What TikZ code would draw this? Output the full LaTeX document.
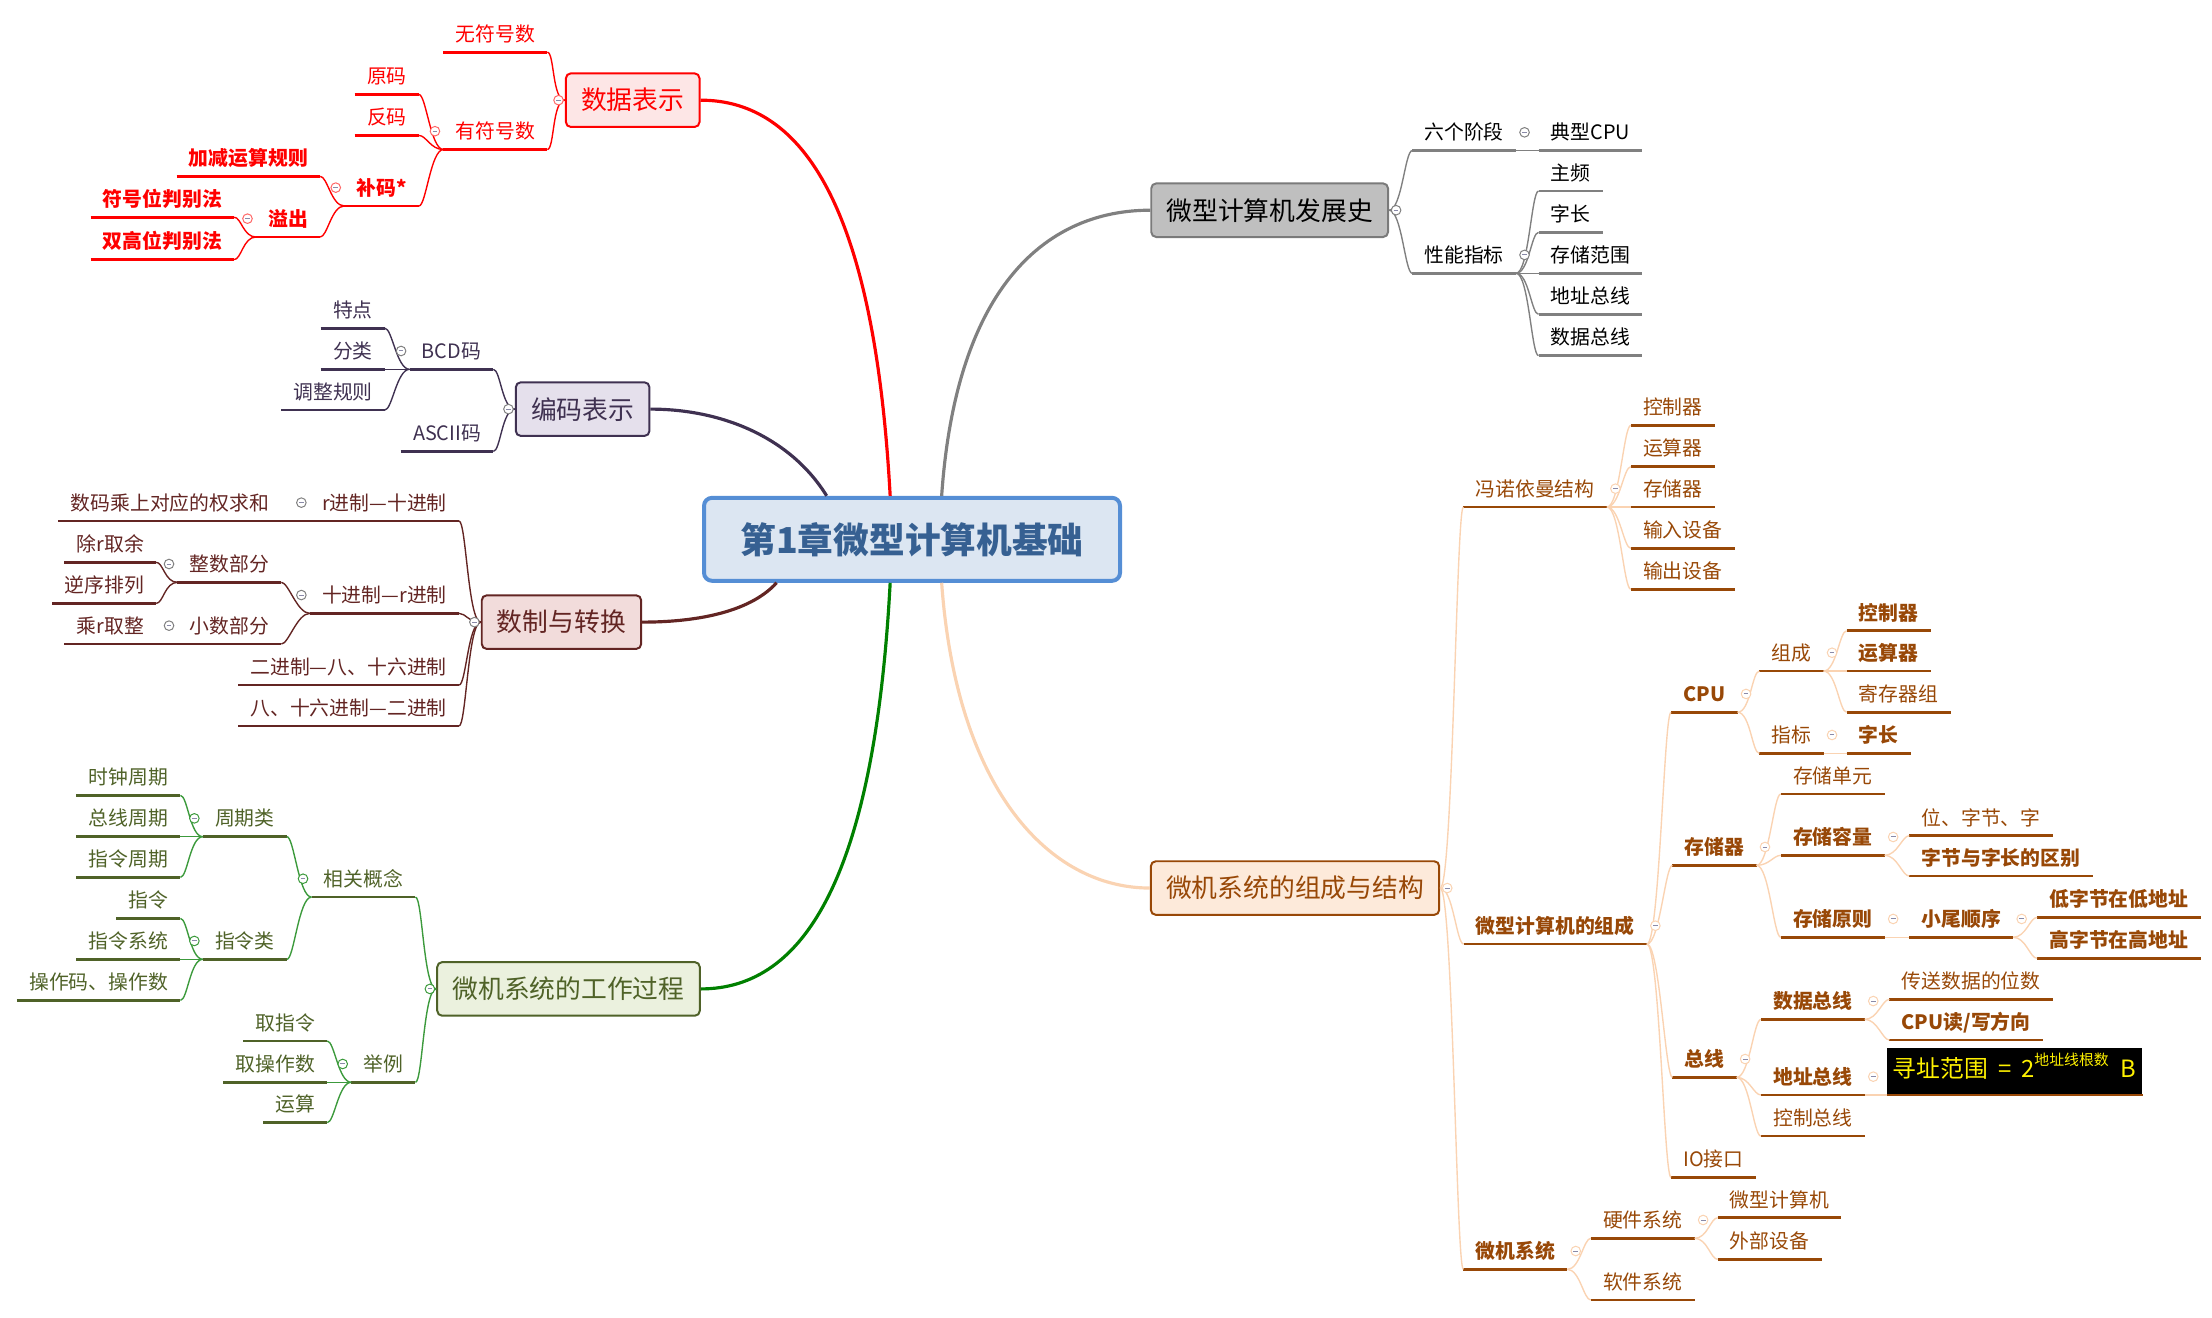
\documentclass[tikz,border=0pt]{standalone}
\usepackage{fontspec}
\setmainfont{Noto Sans CJK SC}
\usetikzlibrary{calc}

\definecolor{cRed}{HTML}{FF0000}
\definecolor{cRedFill}{HTML}{FDE6E6}
\definecolor{cPur}{HTML}{3F3151}
\definecolor{cPurFill}{HTML}{E5E0EC}
\definecolor{cBrn}{HTML}{632523}
\definecolor{cBrnFill}{HTML}{F2DCDB}
\definecolor{cOlv}{HTML}{4F6228}
\definecolor{cOlvFill}{HTML}{EBF1DE}
\definecolor{cGrn}{HTML}{008000}
\definecolor{cGrnLn}{HTML}{3C9A3C}
\definecolor{cGry}{HTML}{808080}
\definecolor{cGryFill}{HTML}{BFBFBF}
\definecolor{cOrg}{HTML}{984807}
\definecolor{cOrgFill}{HTML}{FDEADA}
\definecolor{cPch}{HTML}{FAD3B2}
\definecolor{cBlu}{HTML}{558ED5}
\definecolor{cBluFill}{HTML}{DCE6F2}
\definecolor{cBluTxt}{HTML}{366092}
\definecolor{cBtn}{HTML}{8A8AA8}

\tikzset{
  leaf/.style={font=\fontsize{10}{12}\selectfont, inner xsep=6pt, inner ysep=3.2pt,
    text height=8pt, text depth=2pt},
  strong/.style={font=\bfseries\fontsize{10}{12}\selectfont},
  lft/.style={leaf, anchor=south east},
  rgt/.style={leaf, anchor=south west},
  topic/.style={draw, rounded corners=2.5pt, line width=1pt,
    font=\fontsize{13}{15}\selectfont, minimum height=0.95cm, inner xsep=0.27cm},
  uline/.style={line width=1.4pt},
  twig/.style={line width=0.7pt},
  trunk/.style={line width=1.6pt},
  btn/.style={circle, draw=#1, fill=white, line width=0.5pt, minimum size=0.17cm,
    inner sep=0pt, path picture={\draw[cBtn, line width=0.5pt]
      ([xshift=-1.2pt]path picture bounding box.center) --
      ([xshift=1.2pt]path picture bounding box.center);}},
}

\begin{document}
\begin{tikzpicture}[x=0.025cm, y=-0.025cm]
  \useasboundingbox (0,0) rectangle (1568,934);

  \node[draw=cBlu, fill=cBluFill, line width=2pt, rounded corners=4pt, text=cBluTxt,
    font=\bfseries\fontsize{18}{20}\selectfont, minimum width=7.37cm,
    minimum height=1.47cm] (ctr) at (646.5,382.3) {第1章微型计算机基础};

  % main topics
  \node[topic, draw=cRed, fill=cRedFill, text=cRed] (abox) at (448.5,71) {数据表示};
  \node[topic, draw=cPur, fill=cPurFill, text=cPur] (bbox) at (413,290) {编码表示};
  \node[topic, draw=cBrn, fill=cBrnFill, text=cBrn] (cbox) at (398,441) {数制与转换};
  \node[topic, draw=cOlv, fill=cOlvFill, text=cOlv] (dbox) at (403,701) {微机系统的工作过程};
  \node[topic, draw=cGry!95!black, fill=cGryFill, text=black] (ebox) at (900,149) {微型计算机发展史};
  \node[topic, draw=cOrg, fill=cOrgFill, text=cOrg] (fbox) at (918,629.5) {微机系统的组成与结构};

  \draw[trunk, cRed] ($(ctr.north)+(-15.5,0)$) .. controls +(-11,-202) and +(74,0) .. (abox.east);
  \draw[trunk, cPur] ($(ctr.north)+(-60.5,0)$) .. controls +(-26,-42) and +(50,0) .. (bbox.east);
  \draw[trunk, cBrn] ($(ctr.south)+(-96,0)$) .. controls +(-20,22) and +(35,0) .. (cbox.east);
  \draw[trunk, cGrn] ($(ctr.south)+(-15.5,0)$) .. controls +(-11,207) and +(74,0) .. (dbox.east);
  \draw[trunk, cGry] ($(ctr.north)+(21,0)$) .. controls +(10.5,-152) and +(-71,0) .. (ebox.west);
  \draw[trunk, cPch] ($(ctr.south)+(21,0)$) .. controls +(10.5,147) and +(-71,0) .. (fbox.west);

  % 数据表示
  \node[lft, text=cRed] (a1) at (388,37) {无符号数};
  \node[lft, text=cRed] (a2) at (388,106) {有符号数};
  \node[lft, text=cRed] (a21) at (297,67) {原码};
  \node[lft, text=cRed] (a22) at (297,96) {反码};
  \node[lft, strong, text=cRed] (a23) at (297,146) {补码*};
  \node[lft, strong, text=cRed] (a231) at (227,125) {加减运算规则};
  \node[lft, strong, text=cRed] (a232) at (227,168) {溢出};
  \node[lft, strong, text=cRed] (a2321) at (166,154) {符号位判别法};
  \node[lft, strong, text=cRed] (a2322) at (166,184) {双高位判别法};
  \foreach \n in {a1,a2,a21,a22,a23,a231,a232,a2321,a2322}
    \draw[uline, cRed] (\n.south west) -- (\n.south east);
  \foreach \n in {a1,a2}
    \draw[twig, cRed] (abox.west) .. controls +(-9,0) and +(5,0) .. (\n.south east);
  \foreach \n in {a21,a22,a23}
    \draw[twig, cRed] (a2.south west) .. controls +(-9,0) and +(5,0) .. (\n.south east);
  \foreach \n in {a231,a232}
    \draw[twig, cRed] (a23.south west) .. controls +(-9,0) and +(5,0) .. (\n.south east);
  \foreach \n in {a2321,a2322}
    \draw[twig, cRed] (a232.south west) .. controls +(-9,0) and +(5,0) .. (\n.south east);

  % 编码表示
  \node[lft, text=cPur] (b1) at (349.7,261.8) {BCD码};
  \node[lft, text=cPur] (b2) at (349.7,320) {ASCII码};
  \node[lft, text=cPur] (b11) at (272.9,232.7) {特点};
  \node[lft, text=cPur] (b12) at (272.9,261.8) {分类};
  \node[lft, text=cPur] (b13) at (272.9,290.6) {调整规则};
  \foreach \n in {b1,b2,b11,b12,b13}
    \draw[uline, cPur] (\n.south west) -- (\n.south east);
  \foreach \n in {b1,b2}
    \draw[twig, cPur] (bbox.west) .. controls +(-9,0) and +(5,0) .. (\n.south east);
  \foreach \n in {b11,b12,b13}
    \draw[twig, cPur] (b1.south west) .. controls +(-9,0) and +(5,0) .. (\n.south east);

  % 数制与转换
  \node[lft, text=cBrn] (c1) at (325.4,369.3) {r进制—十进制};
  \node[lft, text=cBrn] (c2) at (325.4,434.8) {十进制—r进制};
  \node[lft, text=cBrn] (c3) at (325.4,485.6) {二进制—八、十六进制};
  \node[lft, text=cBrn] (c4) at (325.4,514.6) {八、十六进制—二进制};
  \node[lft, text=cBrn] (c11) at (199.5,369.3) {数码乘上对应的权求和};
  \node[lft, text=cBrn] (c21) at (199.5,412.8) {整数部分};
  \node[lft, text=cBrn] (c22) at (199.5,456.5) {小数部分};
  \node[lft, text=cBrn] (c211) at (110.7,398.6) {除r取余};
  \node[lft, text=cBrn] (c212) at (110.7,427.7) {逆序排列};
  \node[lft, text=cBrn] (c221) at (110.7,456.5) {乘r取整};
  \foreach \n in {c1,c2,c3,c4,c11,c21,c22,c211,c212,c221}
    \draw[uline, cBrn] (\n.south west) -- (\n.south east);
  \foreach \n in {c1,c2,c3,c4}
    \draw[twig, cBrn] (cbox.west) .. controls +(-9,0) and +(5,0) .. (\n.south east);
  \draw[twig, cBrn] (c1.south west) -- (c11.south east);
  \foreach \n in {c21,c22}
    \draw[twig, cBrn] (c2.south west) .. controls +(-9,0) and +(5,0) .. (\n.south east);
  \foreach \n in {c211,c212}
    \draw[twig, cBrn] (c21.south west) .. controls +(-9,0) and +(5,0) .. (\n.south east);
  \draw[twig, cBrn] (c22.south west) -- (c221.south east);

  % 微机系统的工作过程
  \node[lft, text=cOlv] (d1) at (294.5,635.9) {相关概念};
  \node[lft, text=cOlv] (d2) at (294.5,767.2) {举例};
  \node[lft, text=cOlv] (d11) at (203.4,593.1) {周期类};
  \node[lft, text=cOlv] (d12) at (203.4,680) {指令类};
  \node[lft, text=cOlv] (d111) at (127.9,563.8) {时钟周期};
  \node[lft, text=cOlv] (d112) at (127.9,593.1) {总线周期};
  \node[lft, text=cOlv] (d113) at (127.9,621.9) {指令周期};
  \node[lft, text=cOlv] (d121) at (127.9,651) {指令};
  \node[lft, text=cOlv] (d122) at (127.9,680) {指令系统};
  \node[lft, text=cOlv] (d123) at (127.9,709.1) {操作码、操作数};
  \node[lft, text=cOlv] (d21) at (232,737.9) {取指令};
  \node[lft, text=cOlv] (d22) at (232,767.2) {取操作数};
  \node[lft, text=cOlv] (d23) at (232,795.8) {运算};
  \foreach \n in {d1,d2,d11,d12,d111,d112,d113,d121,d122,d123,d21,d22,d23}
    \draw[uline, cOlv] (\n.south west) -- (\n.south east);
  \foreach \n in {d1,d2}
    \draw[twig, cGrnLn] (dbox.west) .. controls +(-9,0) and +(5,0) .. (\n.south east);
  \foreach \n in {d11,d12}
    \draw[twig, cGrnLn] (d1.south west) .. controls +(-9,0) and +(5,0) .. (\n.south east);
  \foreach \n in {d111,d112,d113}
    \draw[twig, cGrnLn] (d11.south west) .. controls +(-9,0) and +(5,0) .. (\n.south east);
  \foreach \n in {d121,d122,d123}
    \draw[twig, cGrnLn] (d12.south west) .. controls +(-9,0) and +(5,0) .. (\n.south east);
  \foreach \n in {d21,d22,d23}
    \draw[twig, cGrnLn] (d2.south west) .. controls +(-9,0) and +(5,0) .. (\n.south east);

  % 微型计算机发展史
  \node[rgt] (e1) at (1001,106.8) {六个阶段};
  \node[rgt] (e2) at (1001,193.7) {性能指标};
  \node[rgt] (e11) at (1090.6,106.8) {典型CPU};
  \node[rgt] (e21) at (1090.6,135.4) {主频};
  \node[rgt] (e22) at (1090.6,164.7) {字长};
  \node[rgt] (e23) at (1090.6,193.7) {存储范围};
  \node[rgt] (e24) at (1090.6,222.8) {地址总线};
  \node[rgt] (e25) at (1090.6,252.1) {数据总线};
  \foreach \n in {e1,e2,e11,e21,e22,e23,e24,e25}
    \draw[uline, cGry] (\n.south west) -- (\n.south east);
  \foreach \n in {e1,e2}
    \draw[twig, cGry] (ebox.east) .. controls +(9,0) and +(-5,0) .. (\n.south west);
  \draw[twig, cGry] (e1.south east) -- (e11.south west);
  \foreach \n in {e21,e22,e23,e24,e25}
    \draw[twig, cGry] (e2.south east) .. controls +(9,0) and +(-5,0) .. (\n.south west);

  % 微机系统的组成与结构
  \node[rgt, text=cOrg] (f1) at (1037.3,359.4) {冯诺依曼结构};
  \node[rgt, strong, text=cOrg] (f2) at (1037.5,669.2) {微型计算机的组成};
  \node[rgt, strong, text=cOrg] (f3) at (1037.3,899.8) {微机系统};
  \node[rgt, text=cOrg] (f11) at (1156,301.5) {控制器};
  \node[rgt, text=cOrg] (f12) at (1156,330.8) {运算器};
  \node[rgt, text=cOrg] (f13) at (1156,359.4) {存储器};
  \node[rgt, text=cOrg] (f14) at (1156,388.7) {输入设备};
  \node[rgt, text=cOrg] (f15) at (1156,417.7) {输出设备};
  \node[rgt, strong, text=cOrg] (f21) at (1184.5,504.9) {CPU};
  \node[rgt, strong, text=cOrg] (f22) at (1185.5,613.4) {存储器};
  \node[rgt, strong, text=cOrg] (f23) at (1185.5,763.7) {总线};
  \node[rgt, text=cOrg] (f24) at (1184.5,834.6) {IO接口};
  \node[rgt, text=cOrg] (f211) at (1247.1,475.7) {组成};
  \node[rgt, text=cOrg] (f212) at (1247.1,534) {指标};
  \node[rgt, strong, text=cOrg] (f2111) at (1309,447.1) {控制器};
  \node[rgt, strong, text=cOrg] (f2112) at (1309,475.7) {运算器};
  \node[rgt, text=cOrg] (f2113) at (1309,504.9) {寄存器组};
  \node[rgt, strong, text=cOrg] (f2121) at (1309,534) {字长};
  \node[rgt, text=cOrg] (f221) at (1262.3,562.8) {存储单元};
  \node[rgt, strong, text=cOrg] (f222) at (1262.3,606.3) {存储容量};
  \node[rgt, strong, text=cOrg] (f223) at (1262.3,664.4) {存储原则};
  \node[rgt, text=cOrg] (f2221) at (1353.4,592.4) {位、字节、字};
  \node[rgt, strong, text=cOrg] (f2222) at (1353.4,621) {字节与字长的区别};
  \node[rgt, strong, text=cOrg] (f2231) at (1353.4,664.4) {小尾顺序};
  \node[rgt, strong, text=cOrg] (f22311) at (1444,650.3) {低字节在低地址};
  \node[rgt, strong, text=cOrg] (f22312) at (1444,679.3) {高字节在高地址};
  \node[rgt, strong, text=cOrg] (f231) at (1248.2,722.6) {数据总线};
  \node[rgt, strong, text=cOrg] (f232) at (1248.2,776.2) {地址总线};
  \node[rgt, text=cOrg] (f233) at (1248.2,805.3) {控制总线};
  \node[rgt, text=cOrg] (f2311) at (1339.3,708.4) {传送数据的位数};
  \node[rgt, strong, text=cOrg] (f2312) at (1339.3,737.2) {CPU读/写方向};
  \node[rgt, fill=black, text=yellow, inner xsep=3pt, minimum height=0.82cm,
    font=\fontsize{12}{14}\selectfont] (f2321) at (1337.3,776.2)
    {寻址范围\hspace{5pt}=\hspace{5pt}2\raisebox{0.9ex}{\fontsize{7.5}{8}\selectfont 地址线根数}\hspace{6pt}B};
  \node[rgt, text=cOrg] (f31) at (1127.6,877.8) {硬件系统};
  \node[rgt, text=cOrg] (f32) at (1127.6,921.5) {软件系统};
  \node[rgt, text=cOrg] (f311) at (1217.6,863.2) {微型计算机};
  \node[rgt, text=cOrg] (f312) at (1217.6,892.7) {外部设备};
  \foreach \n in {f1,f2,f3,f11,f12,f13,f14,f15,f21,f22,f23,f24,f211,f212,f2111,f2112,
      f2113,f2121,f221,f222,f223,f2221,f2222,f2231,f22311,f22312,f231,f232,f233,
      f2311,f2312,f2321,f31,f32,f311,f312}
    \draw[uline, cOrg] (\n.south west) -- (\n.south east);
  \foreach \n in {f1,f2,f3}
    \draw[twig, cPch] (fbox.east) .. controls +(9,0) and +(-5,0) .. (\n.south west);
  \foreach \n in {f11,f12,f13,f14,f15}
    \draw[twig, cPch] (f1.south east) .. controls +(9,0) and +(-5,0) .. (\n.south west);
  \foreach \n in {f21,f22,f23,f24}
    \draw[twig, cPch] (f2.south east) .. controls +(9,0) and +(-5,0) .. (\n.south west);
  \foreach \n in {f211,f212}
    \draw[twig, cPch] (f21.south east) .. controls +(9,0) and +(-5,0) .. (\n.south west);
  \foreach \n in {f2111,f2112,f2113}
    \draw[twig, cPch] (f211.south east) .. controls +(9,0) and +(-5,0) .. (\n.south west);
  \draw[twig, cPch] (f212.south east) -- (f2121.south west);
  \foreach \n in {f221,f222,f223}
    \draw[twig, cPch] (f22.south east) .. controls +(9,0) and +(-5,0) .. (\n.south west);
  \foreach \n in {f2221,f2222}
    \draw[twig, cPch] (f222.south east) .. controls +(9,0) and +(-5,0) .. (\n.south west);
  \draw[twig, cPch] (f223.south east) -- (f2231.south west);
  \foreach \n in {f22311,f22312}
    \draw[twig, cPch] (f2231.south east) .. controls +(9,0) and +(-5,0) .. (\n.south west);
  \foreach \n in {f231,f232,f233}
    \draw[twig, cPch] (f23.south east) .. controls +(9,0) and +(-5,0) .. (\n.south west);
  \foreach \n in {f2311,f2312}
    \draw[twig, cPch] (f231.south east) .. controls +(9,0) and +(-5,0) .. (\n.south west);
  \draw[twig, cPch] (f232.south east) -- (f2321.south west);
  \foreach \n in {f31,f32}
    \draw[twig, cPch] (f3.south east) .. controls +(9,0) and +(-5,0) .. (\n.south west);
  \foreach \n in {f311,f312}
    \draw[twig, cPch] (f31.south east) .. controls +(9,0) and +(-5,0) .. (\n.south west);

  % collapse buttons
  \node[btn=cRed!60] (abox-b) at ($(abox.west)+(-4.5,0)$) {};
  \node[btn=cGry] (bbox-b) at ($(bbox.west)+(-4.5,0)$) {};
  \node[btn=cGry] (cbox-b) at ($(cbox.west)+(-4.5,0)$) {};
  \node[btn=cGrnLn] (dbox-b) at ($(dbox.west)+(-4.5,0)$) {};
  \node[btn=cGry] (ebox-b) at ($(ebox.east)+(5,0)$) {};
  \node[btn=cPch] (fbox-b) at ($(fbox.east)+(5,0)$) {};
  \foreach \n in {a2,a23,a232}
    \node[btn=cRed!60] (\n-b) at ($(\n.south west)+(-6,-13)$) {};
  \node[btn=cGry] (b1-b) at ($(b1.south west)+(-6,-13)$) {};
  \foreach \n in {c1,c2,c21,c22}
    \node[btn=cGry] (\n-b) at ($(\n.south west)+(-6,-13)$) {};
  \foreach \n in {d1,d11,d12,d2}
    \node[btn=cGrnLn] (\n-b) at ($(\n.south west)+(-6,-13)$) {};
  \foreach \n in {e1,e2}
    \node[btn=cGry] (\n-b) at ($(\n.south east)+(6,-13)$) {};
  \foreach \n in {f1,f2,f21,f211,f212,f22,f222,f223,f2231,f23,f231,f232,f3,f31}
    \node[btn=cPch] (\n-b) at ($(\n.south east)+(6,-13)$) {};
\end{tikzpicture}
\end{document}
